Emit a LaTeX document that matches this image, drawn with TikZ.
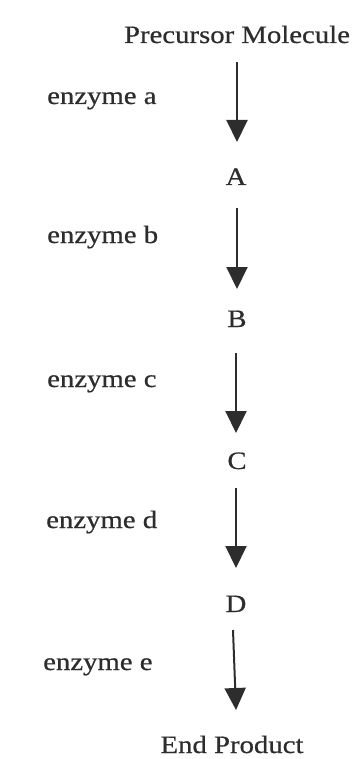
\documentclass[tikz,border=0pt]{standalone}
\usepackage{fontspec}
\setmainfont[FakeStretch=1.15,FakeBold=0.6]{Liberation Serif}
\usetikzlibrary{arrows.meta}
\definecolor{ink}{RGB}{45,45,45}
\tikzset{
  lbl/.style={anchor=base, inner sep=0pt, text=ink, font=\fontsize{25}{29}\selectfont},
  enz/.style={anchor=base west, inner sep=0pt, text=ink, font=\fontsize{25}{29}\selectfont},
  arr/.style={draw=ink, line width=2pt, -{Triangle[length=22pt,width=21pt]}}
}
\begin{document}
\begin{tikzpicture}[x=1pt,y=-1pt]
\useasboundingbox (0,0) rectangle (351,759);
\node[lbl] (pm) at (237,43) {Precursor Molecule};
\node[lbl] (A) at (236,185) {A};
\node[lbl] (B) at (237,327) {B};
\node[lbl] (C) at (237,469) {C};
\node[lbl] (D) at (236,612) {D};
\node[lbl] (ep) at (232,753) {End Product};
\node[enz] (ea) at (47,104) {enzyme a};
\node[enz] (eb) at (47,243) {enzyme b};
\node[enz] (ec) at (47,387) {enzyme c};
\node[enz] (ed) at (46,528) {enzyme d};
\node[enz] (ee) at (43,670) {enzyme e};
\coordinate (s1) at (237,62);  \coordinate (t1) at (237,142);
\coordinate (s2) at (237,208); \coordinate (t2) at (237,289);
\coordinate (s3) at (236,353); \coordinate (t3) at (236,433);
\coordinate (s4) at (236,488); \coordinate (t4) at (236,568);
\coordinate (s5) at (233,630); \coordinate (t5) at (236,710);
\draw[arr] (s1) -- (t1);
\draw[arr] (s2) -- (t2);
\draw[arr] (s3) -- (t3);
\draw[arr] (s4) -- (t4);
\draw[arr] (s5) -- (t5);
\end{tikzpicture}
\end{document}
